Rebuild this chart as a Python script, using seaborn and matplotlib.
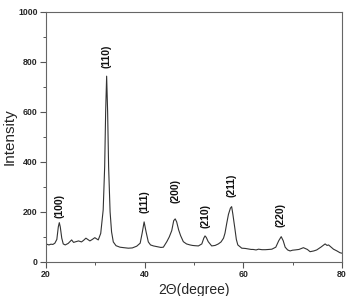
import matplotlib
matplotlib.use("Agg")
import matplotlib.pyplot as plt
import seaborn as sns
import pandas as pd
from matplotlib.ticker import MultipleLocator

two_theta = [20, 20.6, 21, 21.4, 21.8, 22.2, 22.5, 22.7, 22.9, 23.2, 23.5, 23.9, 24.5, 25.2, 25.6,
             25.9, 26.6, 27.2, 27.6, 28.1, 28.9, 29.4, 29.9, 30.6, 31.1, 31.6, 31.9, 32.1, 32.3,
             32.5, 32.7, 33.0, 33.3, 33.65, 34.2, 35, 35.8, 36.7, 37.5, 38.4, 39.1, 39.5, 39.9,
             40.3, 40.75, 41.2, 41.8, 42.3, 42.8, 43.3, 43.8, 44.5, 45.0, 45.5, 45.9, 46.2, 46.5,
             46.9, 47.3, 47.85, 48.5, 49.2, 49.7, 50.2, 50.9, 51.6, 52.0, 52.25, 52.5, 52.9, 53.6,
             54.3, 54.95, 55.5, 56.0, 56.3, 56.65, 57.0, 57.4, 57.65, 57.9, 58.3, 58.6, 58.9, 59.7,
             60.4, 61, 61.6, 62, 62.6, 63.1, 63.8, 64.5, 65.2, 65.8, 66.6, 67.2, 67.7, 68.1, 68.5,
             69.0, 69.5, 70.0, 70.5, 71.3, 72.2, 73, 73.55, 74.3, 74.9, 75.8, 76.6, 77.0, 77.3,
             78.3, 79.0, 79.6, 80]
intensity = [72, 68, 71, 70, 75, 90, 140, 157, 140, 95, 72, 68, 74, 88, 78,
             80, 84, 80, 86, 95, 84, 90, 97, 88, 114, 208, 380, 600, 742,
             600, 380, 200, 120, 80, 65, 59, 57, 55, 56, 63, 75, 115, 160,
             120, 80, 68, 64, 62, 60, 58, 59, 81, 100, 125, 165, 172, 160,
             128, 105, 81, 72, 68, 66, 65, 64, 72, 95, 104, 98, 81, 64,
             66, 72, 80, 95, 115, 154, 190, 215, 221, 190, 134, 90, 68, 55,
             54, 52, 50, 50, 48, 51, 49, 49, 50, 51, 59, 85, 101, 85, 59,
             48, 44, 47, 48, 50, 57, 50, 41, 44, 48, 60, 72, 66, 68,
             51, 44, 37, 35]

peak_labels = ["(100)", "(110)", "(111)", "(200)", "(210)", "(211)", "(220)"]
label_x = [22.7, 32.3, 39.9, 46.2, 52.25, 57.65, 67.6]
label_y = [176, 775, 196, 235, 136, 260, 140]

sns.set_style("ticks")
plt.rcParams['font.family'] = ['Liberation Sans', 'DejaVu Sans']

fig = plt.figure(figsize=(3.51, 2.96), dpi=100)
ax = fig.add_axes([0.131, 0.115, 0.843, 0.846])

df = pd.DataFrame({"2theta": two_theta, "I": intensity})
sns.lineplot(data=df, x="2theta", y="I", ax=ax, color="#333333", linewidth=0.8, sort=False)

for lab, lx, ly in zip(peak_labels, label_x, label_y):
    ax.text(lx, ly, lab, rotation=90, ha="center", va="bottom", fontsize=7.5,
            fontweight="bold", color="#111111")

ax.set_xlim(20, 80)
ax.set_ylim(0, 1000)
ax.xaxis.set_major_locator(MultipleLocator(20))
ax.xaxis.set_minor_locator(MultipleLocator(10))
ax.yaxis.set_major_locator(MultipleLocator(200))
ax.yaxis.set_minor_locator(MultipleLocator(100))
ax.tick_params(which="major", direction="out", length=4, width=0.8, color="#555555",
               labelsize=6.3, pad=2)
ax.tick_params(which="minor", direction="out", length=2, width=0.7, color="#555555")
for t in ax.get_xticklabels() + ax.get_yticklabels():
    t.set_fontweight("bold")
for s in ax.spines.values():
    s.set_visible(True)
    s.set_color("#666666")
    s.set_linewidth(0.8)

ax.set_xlabel("2Θ(degree)", fontsize=10, labelpad=3)
ax.set_ylabel("Intensity", fontsize=11, labelpad=1)

fig.savefig("out.png", dpi=100)
